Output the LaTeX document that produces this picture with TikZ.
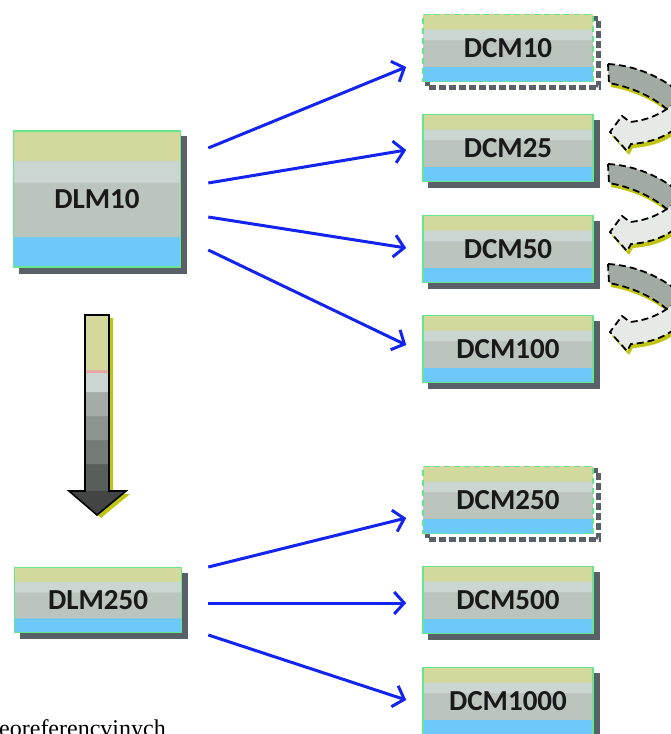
\documentclass[tikz,border=0pt]{standalone}
\usepackage{fontspec}
\setmainfont{Liberation Serif}
\newfontfamily\boxfont{Carlito}
\usetikzlibrary{arrows.meta,backgrounds,calc}

\definecolor{boxedge}{HTML}{66E68C}
\definecolor{boxshadow}{HTML}{596068}
\definecolor{bandbeige}{HTML}{D3D99C}
\definecolor{bandlight}{HTML}{CBD5D2}
\definecolor{bandmid}{HTML}{BCC4BE}
\definecolor{bandblue}{HTML}{6CC9F9}
\definecolor{bandpink}{HTML}{E8A4A0}
\definecolor{flowblue}{HTML}{1424F0}
\definecolor{turnyellow}{HTML}{BFC512}
\definecolor{turndark}{HTML}{A2AAA4}
\definecolor{turnlight}{HTML}{E6EAE6}

% layered fill of the level boxes (bottom to top)
\pgfdeclareverticalshading{layerbands}{100bp}{
  color(0bp)=(bandblue); color(36bp)=(bandblue);
  color(36.3bp)=(bandmid); color(56bp)=(bandmid);
  color(56.3bp)=(bandlight); color(64bp)=(bandlight);
  color(64.3bp)=(bandbeige); color(100bp)=(bandbeige)}
% fill of the big downward arrow
\pgfdeclareverticalshading{descent}{100bp}{
  color(0bp)=(black!65!bandmid); color(31bp)=(black!65!bandmid);
  color(31.3bp)=(black!52!bandmid); color(37.7bp)=(black!52!bandmid);
  color(38bp)=(black!38!bandmid); color(43.7bp)=(black!38!bandmid);
  color(44bp)=(black!25!bandmid); color(49.7bp)=(black!25!bandmid);
  color(50bp)=(black!12!bandmid); color(55.7bp)=(black!12!bandmid);
  color(56bp)=(bandlight); color(60.5bp)=(bandlight);
  color(60.7bp)=(bandpink); color(61.2bp)=(bandpink);
  color(61.4bp)=(bandbeige); color(100bp)=(bandbeige)}

\tikzset{
  layer/.style={draw=boxedge, line width=1.6pt, shade, shading=layerbands,
    minimum width=170pt, minimum height=67pt, inner sep=0pt,
    font=\boxfont\bfseries\fontsize{29}{30}\selectfont, text=black!90},
  tall/.style={minimum width=167pt, minimum height=136pt},
  dashededge/.style={dash pattern=on 6pt off 4pt},
  flow/.style={flowblue, line width=3pt,
    -{Straight Barb[length=10pt,width=22pt]}},
  turnedge/.style={black, line width=1.8pt, dash pattern=on 7pt off 4pt}
}

\begin{document}
\begin{tikzpicture}[x=1pt,y=-1pt]
\useasboundingbox (0,0) rectangle (670,734);

% level boxes
\node[layer,tall] (dlm10) at (97,199) {DLM10};
\node[layer,dashededge] (dcm10) at (508,48) {DCM10};
\node[layer] (dcm25) at (508,148) {DCM25};
\node[layer] (dcm50) at (508,249) {DCM50};
\node[layer] (dcm100) at (508,349) {DCM100};
\node[layer,minimum width=167pt,minimum height=65pt] (dlm250) at (98,600) {DLM250};
\node[layer,dashededge] (dcm250) at (508,500) {DCM250};
\node[layer] (dcm500) at (508,600) {DCM500};
\node[layer] (dcm1000) at (508,701) {DCM1000};

% shadows behind the boxes
\begin{scope}[on background layer]
\foreach \n in {dlm10,dcm25,dcm50,dcm100,dlm250,dcm500,dcm1000}
  \fill[boxshadow] ([shift={(6,6)}]\n.north west) rectangle ([shift={(6,6)}]\n.south east);
\foreach \n in {dcm10,dcm250}
  \draw[boxshadow,line width=5pt,dash pattern=on 7pt off 3pt] ([shift={(5,5)}]\n.north west) rectangle ([shift={(5,5)}]\n.south east);
\end{scope}

% arrows from the level-1 model
\draw[flow] ([shift={(27,-51)}]dlm10.east) -- ([shift={(-16,19)}]dcm10.west);
\draw[flow] ([shift={(27,-16)}]dlm10.east) -- ([shift={(-16,2)}]dcm25.west);
\draw[flow] ([shift={(27,18)}]dlm10.east) -- ([shift={(-16,-1)}]dcm50.west);
\draw[flow] ([shift={(27,51)}]dlm10.east) -- ([shift={(-16,-4)}]dcm100.west);

% arrows from the level-2 model
\draw[flow] ([shift={(26,-33)}]dlm250.east) -- ([shift={(-16,18)}]dcm250.west);
\draw[flow] ([shift={(26,3)}]dlm250.east) -- ([shift={(-16,3)}]dcm500.west);
\draw[flow] ([shift={(26,35)}]dlm250.east) -- ([shift={(-16,-1)}]dcm1000.west);

% big downward arrow
\fill[turnyellow] (89,318) -- (113,318) -- (113,494) -- (130,494) -- (101,518) -- (73,494) -- (89,494) -- cycle;
\draw[black,line width=1.6pt,shade,shading=descent] (85,315) -- (109,315) -- (109,491) -- (126,491) -- (97,515) -- (69,491) -- (85,491) -- cycle;

% curved arrows between the detailed models
\foreach \k in {0,1,2} {
\begin{scope}[shift={(0,100*\k)}]
\fill[turnyellow] (610,68) .. controls (644,70) and (674,86) .. (696,110) -- (678,122) .. controls (662,104) and (638,92) .. (611,87) -- cycle;
\draw[turnedge,fill=turndark] (608,64) .. controls (642,66) and (672,82) .. (694,106) -- (676,118) .. controls (660,100) and (636,88) .. (609,83) -- cycle;
\fill[turnyellow] (696,108) .. controls (684,134) and (662,146) .. (633,148) -- (629,155) -- (612,136) -- (624,120) -- (632,126) .. controls (652,124) and (668,116) .. (682,102) -- cycle;
\draw[turnedge,fill=turnlight] (694,104) .. controls (682,130) and (660,142) .. (631,144) -- (627,151) -- (610,132) -- (622,116) -- (630,122) .. controls (650,120) and (666,112) .. (680,98) -- cycle;
\end{scope}
}

% text running off the lower edge
\node[anchor=base west,inner sep=0pt,font=\fontsize{24}{26}\selectfont] (tail) at (-1,736) {eoreferencvinych};
\end{tikzpicture}
\end{document}
